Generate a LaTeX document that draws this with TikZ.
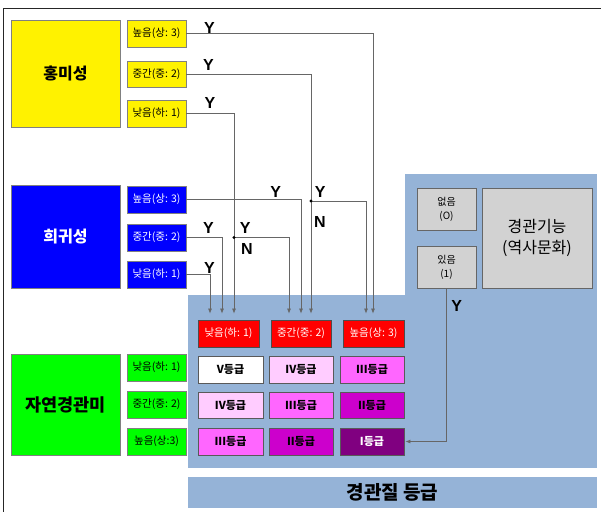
\documentclass[tikz,border=0pt]{standalone}
\usepackage{fontspec}
\setmainfont{Noto Sans CJK KR}
\newfontfamily\latf{Liberation Sans}
\usetikzlibrary{arrows.meta}
\definecolor{panel}{RGB}{149,179,215}
\definecolor{gbx}{RGB}{210,210,210}
\definecolor{pk1}{RGB}{255,204,255}
\definecolor{pk2}{RGB}{255,102,255}
\definecolor{pk3}{RGB}{204,0,204}
\definecolor{pk4}{RGB}{128,0,128}
\begin{document}
\begin{tikzpicture}[x=1pt,y=-1pt,
  box/.style={draw=gray, line width=0.8pt, inner sep=0pt, align=center,
    font=\fontsize{10.5}{12}\selectfont, minimum height=27pt, minimum width=59pt},
  bigbox/.style={draw=gray, line width=0.8pt, inner sep=0pt, align=center,
    font=\bfseries\fontsize{16}{18}\selectfont, minimum width=109pt},
  redbox/.style={draw=black!70, line width=0.8pt, fill=red, text=white, inner sep=0pt,
    font=\fontsize{10.5}{12}\selectfont, minimum height=27pt, minimum width=61pt},
  grade/.style={draw=black!65, line width=0.9pt, inner sep=0pt,
    font=\bfseries\fontsize{11}{12}\selectfont, minimum height=27pt, minimum width=64pt},
  graybox/.style={draw=black!60, line width=0.8pt, fill=gbx, inner sep=0pt, align=center},
  arr/.style={draw=black!60, line width=0.7pt, -{Latex[length=5pt,width=4pt]}, shorten >=6pt},
  lab/.style={font=\latf\bfseries\fontsize{16}{16}\selectfont, inner sep=0pt}
]
\useasboundingbox (0,0) rectangle (601,512);
\fill[white] (0,0) rectangle (601,512);
% frame
\draw[black!85, line width=0.9pt] (601,8) -- (3,8) -- (3,512);
% panels
\fill[panel] (188,295) rectangle (405,468);
\fill[panel] (405,174) rectangle (597,468);
\node[fill=panel, minimum width=409pt, minimum height=31pt, inner sep=0pt,
  font=\bfseries\fontsize{19}{21}\selectfont] (title) at (392.5,492.5) {경관질 등급};

% yellow
\node[bigbox, fill=yellow, minimum height=107pt] (Y) at (65.5,73.5) {홍미성};
\node[box, fill=yellow] (y1) at (156.5,33.5) {높음(상: 3)};
\node[box, fill=yellow, minimum height=26pt] (y2) at (156.5,74) {중간(중: 2)};
\node[box, fill=yellow] (y3) at (156.5,113.5) {낮음(하: 1)};
% blue
\node[bigbox, fill=blue, text=white, minimum height=103pt] (B) at (65.5,236.5) {희귀성};
\node[box, fill=blue, text=white] (b1) at (156.5,199.5) {높음(상: 3)};
\node[box, fill=blue, text=white] (b2) at (156.5,237.5) {중간(중: 2)};
\node[box, fill=blue, text=white] (b3) at (156.5,274.5) {낮음(하: 1)};
% green
\node[bigbox, fill=green, minimum height=101pt, font=\bfseries\fontsize{17.5}{19}\selectfont] (G) at (65.5,404.5) {자연경관미};
\node[box, fill=green] (g1) at (156.5,367.5) {낮음(하: 1)};
\node[box, fill=green] (g2) at (156.5,404.5) {중간(중: 2)};
\node[box, fill=green] (g3) at (156.5,441.5) {높음(상:3)};

% gray boxes
\node[graybox, minimum width=59pt, minimum height=42pt, font=\fontsize{10}{14}\selectfont] (n0) at (446.5,209) {없음\\(O)};
\node[graybox, minimum width=59pt, minimum height=42pt, font=\fontsize{10}{14}\selectfont] (n1) at (446.5,267) {있음\\(1)};
\node[graybox, minimum width=110pt, minimum height=100pt, font=\fontsize{16}{21}\selectfont] (hist) at (537,238) {경관기능\\(역사문화)};

% red boxes
\node[redbox] (r1) at (228.5,333.5) {낮음(하: 1)};
\node[redbox, minimum width=60pt] (r2) at (301,333.5) {중간(중: 2)};
\node[redbox] (r3) at (373.5,333.5) {높음(상: 3)};

% grades
\node[grade, fill=white, minimum width=65pt] (a11) at (230.5,369.5) {V등급};
\node[grade, fill=pk1] (a12) at (301,369.5) {IV등급};
\node[grade, fill=pk2] (a13) at (372,369.5) {III등급};
\node[grade, fill=pk1, minimum width=65pt, minimum height=26pt] (a21) at (230.5,405) {IV등급};
\node[grade, fill=pk2, minimum height=26pt] (a22) at (301,405) {III등급};
\node[grade, fill=pk3, minimum height=26pt] (a23) at (372,405) {II등급};
\node[grade, fill=pk2, minimum width=65pt] (a31) at (230.5,441.5) {III등급};
\node[grade, fill=pk3] (a32) at (301,441.5) {II등급};
\node[grade, fill=pk4, text=white] (a33) at (372,441.5) {I등급};

% connectors
\coordinate (j1) at (234,237.5);
\coordinate (j2) at (311,201);
\draw[arr] (y1.east) -| ([xshift=-0.5pt]r3.north);
\draw[arr] (y2.east) -| ([xshift=10pt]r2.north);
\draw[arr] (y3.east) -| ([xshift=5.5pt]r1.north);
\draw[arr] (j2) -| ([xshift=-7.5pt]r3.north);
\draw[arr] (j1) -| ([xshift=-12pt]r2.north);
\fill[black] (j1) circle (1.6);
\fill[black] (j2) circle (1.6);
\draw[arr] (b1.east) -| (r2.north);
\draw[arr] (b2.east) -| ([xshift=-6.5pt]r1.north);
\draw[arr] (b3.east) -| ([xshift=-18.5pt]r1.north);
\draw[arr, shorten >=1pt] (n1.south) |- (a33.east);

% labels
\node[lab] (l1) at (209.5,27.5) {Y};
\node[lab] (l2) at (208.5,64.5) {Y};
\node[lab] (l3) at (210,102.5) {Y};
\node[lab] (l4) at (275.7,192) {Y};
\node[lab] (l5) at (320.3,192) {Y};
\node[lab] (l6) at (320,222) {N};
\node[lab] (l7) at (245.3,227.5) {Y};
\node[lab] (l8) at (247,248.5) {N};
\node[lab] (l9) at (208.5,227.5) {Y};
\node[lab] (l10) at (209.5,268) {Y};
\node[lab] (l11) at (456.7,306) {Y};
\end{tikzpicture}
\end{document}
